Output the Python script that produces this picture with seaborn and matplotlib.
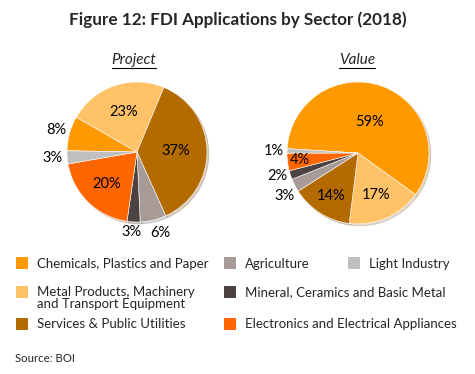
import numpy as np
import matplotlib
matplotlib.use("Agg")
import matplotlib.pyplot as plt
import matplotlib.patches as mpatches
from matplotlib.lines import Line2D
import seaborn as sns

# Data
sectors = ["Chemicals, Plastics and Paper",
           "Metal Products, Machinery and Transport Equipment",
           "Services & Public Utilities",
           "Agriculture",
           "Mineral, Ceramics and Basic Metal",
           "Electronics and Electrical Appliances",
           "Light Industry"]
project_pct = [8, 23, 37, 6, 3, 20, 3]
value_pct = [59, 17, 14, 3, 2, 4, 1]
sector_colors = ["#FF9900", "#FFC266", "#B36B00", "#A89A97",
                 "#4D4242", "#FF6600", "#BFBFBF"]

sns.set_style("white")
plt.rcParams['font.family'] = ['Lato', 'DejaVu Sans']
pal = sns.color_palette(sector_colors)

W, H = 475, 374
fig = plt.figure(figsize=(W / 100, H / 100), dpi=100)


def px_axes(cx, cy, r):
    # axes square in pixels, centred on (cx, cy) measured from top-left
    return fig.add_axes([(cx - r) / W, 1 - (cy + r) / H, 2 * r / W, 2 * r / H])


def draw_pie(ax, values, start, label_pos):
    # label_pos: (radius, angle nudge in degrees) for each percentage label
    wedges, _ = ax.pie(values, colors=pal, startangle=start, counterclock=False,
                       wedgeprops=dict(edgecolor='white', linewidth=0.4),
                       shadow={'ox': 0.02, 'oy': -0.02, 'shade': 0.5, 'alpha': 0.25})
    for w, v, (r, nudge) in zip(wedges, values, label_pos):
        ang = np.deg2rad((w.theta1 + w.theta2) / 2 + nudge)
        ax.text(r * np.cos(ang), r * np.sin(ang), f"{v}%",
                ha='center', va='center', fontsize=10.5, color='black')
    ax.set_xlim(-1, 1)
    ax.set_ylim(-1, 1)
    ax.axis('off')


ax1 = px_axes(137, 152, 70)
draw_pie(ax1, project_pct, 179,
         [(1.2, 0), (0.6, 0), (0.56, 0), (1.2, 3), (1.15, -1), (0.63, 0), (1.21, 0)])

ax2 = px_axes(358, 153, 71)
draw_pie(ax2, value_pct, 176.5,
         [(0.47, 0), (0.64, 0), (0.71, 0), (1.2, 3.5), (1.18, -2), (0.82, 0), (1.18, 0)])

# Titles
fig.text(0.5, 1 - 20 / H, "Figure 12: FDI Applications by Sector (2018)",
         ha='center', va='center', fontsize=12.3, fontweight='bold')

fig.canvas.draw()
renderer = fig.canvas.get_renderer()
for name, cx in [("Project", 134), ("Value", 357)]:
    t = fig.text(cx / W, 1 - 60 / H, name, ha='center', va='center',
                 fontsize=11, style='italic')
    bb = t.get_window_extent(renderer)
    yline = 1 - 67.5 / H
    fig.add_artist(Line2D([bb.x0 / W, bb.x1 / W], [yline, yline],
                          color='black', linewidth=0.8))

# Legend, drawn by hand in three columns
legend_labels = [s.replace("Machinery ", "Machinery\n") for s in sectors]
col_x = [16, 224, 348]
row_y = [263, 292, 324]
slots = [(0, 0), (0, 1), (0, 2), (1, 0), (1, 1), (1, 2), (2, 0)]
for lab, c, (ci, ri) in zip(legend_labels, pal, slots):
    x, y = col_x[ci], row_y[ri]
    fig.add_artist(mpatches.Rectangle((x / W, 1 - (y + 6) / H), 12 / W, 12 / H,
                                      facecolor=c, edgecolor='none'))
    fig.text((x + 21) / W, 1 - (y - 5.5) / H, lab, ha='left', va='top',
             fontsize=9.5, linespacing=1.0)

fig.text(15 / W, 1 - 358 / H, "Source: BOI", ha='left', va='center', fontsize=8.2)

fig.savefig("out.png", dpi=100)
